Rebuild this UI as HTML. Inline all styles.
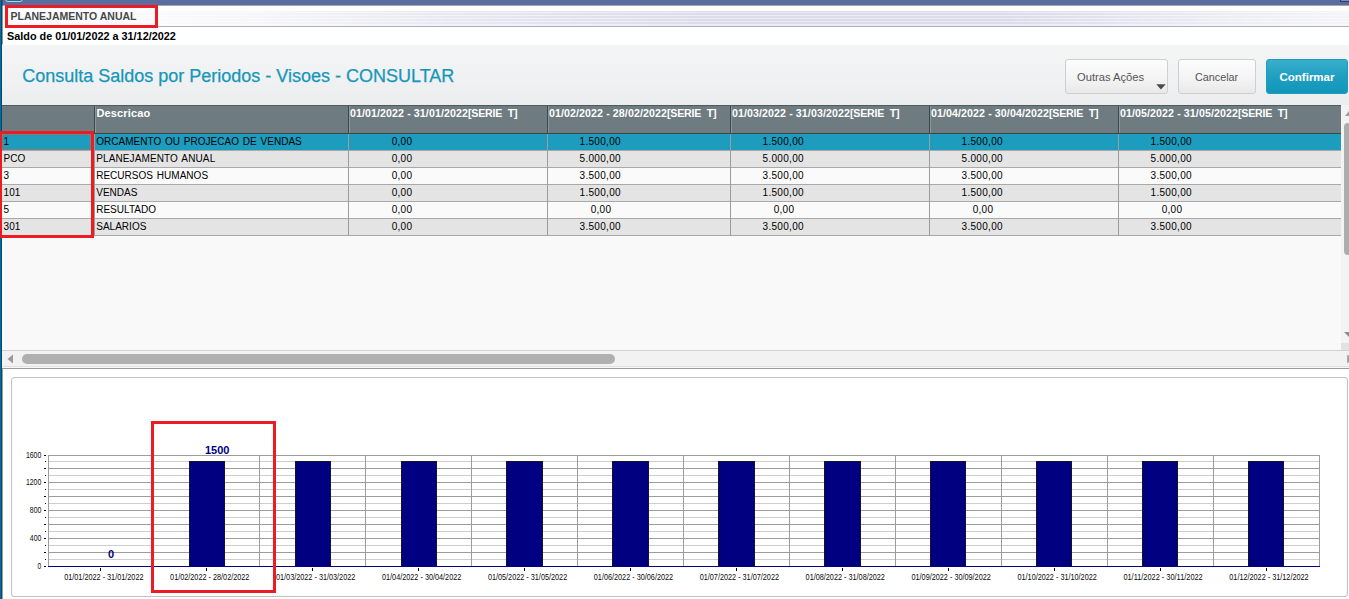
<!DOCTYPE html>
<html lang="pt-BR">
<head>
<meta charset="utf-8">
<title>Consulta Saldos por Periodos</title>
<style>
html,body{margin:0;padding:0;}
body{width:1349px;height:599px;position:relative;overflow:hidden;background:#fff;
  font-family:"Liberation Sans",sans-serif;color:#000;}
.a{position:absolute;}
.t{position:absolute;white-space:pre;line-height:14px;}
/* window chrome */
#lb{left:0;top:0;width:2px;height:599px;background:linear-gradient(90deg,#0a6b8c 0,#0a6b8c 1px,#00487d 1px,#00487d 2px);}
#lbt{left:2px;top:0;width:1px;height:44px;background:rgba(60,60,60,.55);}
#lbt2{left:2px;top:44px;width:1px;height:324px;background:rgba(0,72,125,.25);}
#lbt3{left:2px;top:368px;width:1px;height:231px;background:rgba(80,80,80,.55);}
#topbar{left:2px;top:0;width:1347px;height:5px;background:#5b6c9f;}
#pill{left:5px;top:-7px;width:16px;height:7px;border:1px solid #c9cbdc;border-radius:3px;background:#0b7796;}
#trc{left:1340px;top:0;width:9px;height:1px;background:#7f89b6;border-bottom:1px solid #2e3e79;border-left:1px solid #2e3e79;}
#band{left:6px;top:11px;width:1343px;height:15px;background:linear-gradient(180deg,#dbdce8 0,#dbdce8 1px,#ebecf7 1px,#ebecf7 2px,#dbdce8 2px,#dbdce8 4px,#ebecf7 4px,#ebecf7 5px,#dbdce8 5px,#dbdce8 7px,#ebecf7 7px,#ebecf7 8px,#dbdce8 8px,#dbdce8 10px,#ebecf7 10px,#ebecf7 11px,#dbdce8 11px,#dbdce8 13px,#ebecf7 13px,#ebecf7 15px);}
#bandr{left:6px;top:11px;width:1343px;height:15px;background:linear-gradient(90deg,rgba(255,255,255,.85) 0,rgba(255,255,255,.85) 150px,rgba(255,255,255,.75) 250px,rgba(255,255,255,.35) 450px,rgba(255,255,255,0) 700px,rgba(255,255,255,0) 1000px,rgba(255,255,255,.45) 1200px,rgba(255,255,255,.7) 1343px);}
#bandl{left:6px;top:26px;width:1343px;height:1px;background:#aeaeb6;}
#tbl{left:2px;top:5px;width:1347px;height:1px;background:#a6a6a8;}
.red{position:absolute;border:3px solid #ed1c24;box-sizing:border-box;}
#hd1{left:10.5px;top:9px;font-weight:bold;font-size:10.5px;color:#474747;}
#hd2{left:7px;top:28.5px;font-weight:bold;font-size:10.85px;color:#000;}
/* title panel */
#tp{left:2px;top:45px;width:1347px;height:60px;background:linear-gradient(180deg,#f4f5f5 0,#f0f1f2 55%,#ecedee 100%);}
#title{left:22.2px;top:65px;font-size:18px;line-height:22px;color:#1697ba;-webkit-text-stroke:0.25px #1697ba;}
.btn{position:absolute;top:59px;height:35px;box-sizing:border-box;border:1px solid #cfcfcf;border-radius:3px;
  background:linear-gradient(180deg,#fdfdfd 0,#f4f4f4 55%,#e9e9e9 100%);color:#555;font-size:11.2px;}
.btn span{position:absolute;white-space:pre;line-height:14px;}
#b3{border-color:#1f9bbd;background:linear-gradient(180deg,#3aaecd 0,#1f9fc1 50%,#1196b9 100%);color:#fff;font-weight:bold;}
/* table */
#tarea{left:2px;top:105px;width:1339px;height:245px;background:#f9f9f9;}
#thead{left:2px;top:105px;width:1339px;height:29px;background:#6e7c81;border-top:1px solid #4f5a5e;border-bottom:1px solid #3f4649;box-sizing:border-box;}
.hs{position:absolute;top:106px;height:27px;width:1px;background:#3f474a;}
.hs2{position:absolute;top:106px;height:27px;width:1px;background:#8b979b;}
.th{position:absolute;top:106px;white-space:pre;line-height:14px;font-weight:bold;font-size:11px;color:#fff;}
.row{position:absolute;left:2px;width:1339px;height:16px;border-bottom:1px solid #a9a9a9;}
.r0{background:#1d9cbe;}
.ro{background:#e4e4e4;}
.re{background:#fafafa;}
.vs{position:absolute;top:134px;height:102px;width:1px;background:#9c9c9c;}
.c{position:absolute;white-space:pre;line-height:14px;font-size:10px;word-spacing:1px;letter-spacing:0.02px;color:#000;}
.n{letter-spacing:0.1px;}
.v{position:absolute;white-space:pre;line-height:14px;font-size:10px;letter-spacing:0.3px;color:#000;width:107px;text-align:center;margin-left:-0.3px;}
/* scrollbars */
#vsb{left:1341px;top:105px;width:8px;height:238px;background:#f3f3f3;}
#vth{left:1344px;top:123px;width:8px;height:132px;border-radius:4px;background:#adadad;}
#corner{left:1341px;top:343px;width:8px;height:7px;background:#e2e2e2;}
#hsbl{left:2px;top:350px;width:1347px;height:1px;background:#d2d2d2;}
#hsb{left:2px;top:351px;width:1347px;height:15px;background:#f2f2f2;}
#hsbc{left:2px;top:366px;width:1347px;height:1px;background:#dfe2e2;}
#hth{left:22px;top:354px;width:593px;height:10px;border-radius:5px;background:#b0b0b0;}
#hsbb{left:2px;top:368px;width:1347px;height:1px;background:#9a9a9a;}
#hsbb2{left:2px;top:367px;width:1347px;height:1px;background:#f8f8f8;}
/* chart */
#cp{left:11px;top:377px;width:1337px;height:220px;box-sizing:border-box;border:1px solid #c2c2c2;border-radius:3px;background:#fff;box-shadow:inset 0 0 1px #d8d8d8;}
</style>
</head>
<body>
<div class="a" id="topbar"></div>
<div class="a" id="pill"></div>
<div class="a" id="trc"></div>
<div class="a" id="band"></div>
<div class="a" id="bandr"></div>
<div class="a" id="bandl"></div>
<div class="a" id="tbl"></div>
<div class="a" id="lb"></div>
<div class="a" id="lbt"></div>
<div class="a" id="lbt2"></div>
<div class="a" id="lbt3"></div>

<div class="t" id="hd1">PLANEJAMENTO ANUAL</div>
<div class="t" id="hd2">Saldo de 01/01/2022 a 31/12/2022</div>

<div class="a" id="tp"></div>
<div class="t" id="title">Consulta Saldos por Periodos - Visoes - CONSULTAR</div>

<div class="btn" id="b1" style="left:1065px;width:103px;"><span style="left:11px;top:10px;">Outras Ações</span>
<svg class="a" style="left:89.5px;top:24px" width="10" height="6" viewBox="0 0 10 6"><path d="M0.3 0.3 L9.7 0.3 L5 5.6 Z" fill="#4a4a4a"/></svg></div>
<div class="btn" id="b2" style="left:1178px;width:78px;"><span style="left:16px;top:10px;font-size:10.8px;">Cancelar</span></div>
<div class="btn" id="b3" style="left:1266px;width:82px;"><span style="left:12.5px;top:10px;font-size:11.5px;">Confirmar</span></div>

<div class="a" id="tarea"></div>
<div class="a" id="thead"></div>
<div class="hs" style="left:94px"></div><div class="hs2" style="left:95px"></div>
<div class="hs" style="left:348px"></div><div class="hs2" style="left:349px"></div>
<div class="hs" style="left:547px"></div><div class="hs2" style="left:548px"></div>
<div class="hs" style="left:730px"></div><div class="hs2" style="left:731px"></div>
<div class="hs" style="left:929px"></div><div class="hs2" style="left:930px"></div>
<div class="hs" style="left:1118px"></div><div class="hs2" style="left:1119px"></div>
<div class="th" style="left:96.5px;letter-spacing:0.13px">Descricao</div>
<div class="th" style="left:350.0px;font-size:10.62px"><span style="letter-spacing:0.1px">01/01/2022 - 31/01/2022</span><span style="letter-spacing:-0.19px">[SERIE  T]</span></div>
<div class="th" style="left:549.0px;font-size:10.62px"><span style="letter-spacing:0.1px">01/02/2022 - 28/02/2022</span><span style="letter-spacing:-0.19px">[SERIE  T]</span></div>
<div class="th" style="left:732.0px;font-size:10.62px"><span style="letter-spacing:0.1px">01/03/2022 - 31/03/2022</span><span style="letter-spacing:-0.19px">[SERIE  T]</span></div>
<div class="th" style="left:931.0px;font-size:10.62px"><span style="letter-spacing:0.1px">01/04/2022 - 30/04/2022</span><span style="letter-spacing:-0.19px">[SERIE  T]</span></div>
<div class="th" style="left:1120.0px;font-size:10.62px"><span style="letter-spacing:0.1px">01/05/2022 - 31/05/2022</span><span style="letter-spacing:-0.19px">[SERIE  T]</span></div>
<div class="row r0" style="top:134px"></div>
<div class="row ro" style="top:151px"></div>
<div class="row re" style="top:168px"></div>
<div class="row ro" style="top:185px"></div>
<div class="row re" style="top:202px"></div>
<div class="row ro" style="top:219px"></div>
<div class="vs" style="left:94px"></div>
<div class="vs" style="left:348px"></div>
<div class="vs" style="left:547px"></div>
<div class="vs" style="left:730px"></div>
<div class="vs" style="left:929px"></div>
<div class="vs" style="left:1118px"></div>
<div class="c n" style="left:3.5px;top:135px">1</div>
<div class="c" style="left:96.2px;top:135px">ORCAMENTO OU PROJECAO DE VENDAS</div>
<div class="v" style="left:348.8px;top:135px">0,00</div>
<div class="v" style="left:547px;top:135px">1.500,00</div>
<div class="v" style="left:730px;top:135px">1.500,00</div>
<div class="v" style="left:929px;top:135px">1.500,00</div>
<div class="v" style="left:1118px;top:135px">1.500,00</div>
<div class="c" style="left:3.5px;top:152px">PCO</div>
<div class="c" style="left:96.2px;top:152px;letter-spacing:0.12px">PLANEJAMENTO ANUAL</div>
<div class="v" style="left:348.8px;top:152px">0,00</div>
<div class="v" style="left:547px;top:152px">5.000,00</div>
<div class="v" style="left:730px;top:152px">5.000,00</div>
<div class="v" style="left:929px;top:152px">5.000,00</div>
<div class="v" style="left:1118px;top:152px">5.000,00</div>
<div class="c n" style="left:3.5px;top:169px">3</div>
<div class="c" style="left:96.2px;top:169px">RECURSOS HUMANOS</div>
<div class="v" style="left:348.8px;top:169px">0,00</div>
<div class="v" style="left:547px;top:169px">3.500,00</div>
<div class="v" style="left:730px;top:169px">3.500,00</div>
<div class="v" style="left:929px;top:169px">3.500,00</div>
<div class="v" style="left:1118px;top:169px">3.500,00</div>
<div class="c n" style="left:3.5px;top:186px">101</div>
<div class="c" style="left:96.2px;top:186px">VENDAS</div>
<div class="v" style="left:348.8px;top:186px">0,00</div>
<div class="v" style="left:547px;top:186px">1.500,00</div>
<div class="v" style="left:730px;top:186px">1.500,00</div>
<div class="v" style="left:929px;top:186px">1.500,00</div>
<div class="v" style="left:1118px;top:186px">1.500,00</div>
<div class="c n" style="left:3.5px;top:203px">5</div>
<div class="c" style="left:96.2px;top:203px">RESULTADO</div>
<div class="v" style="left:348.8px;top:203px">0,00</div>
<div class="v" style="left:547.8px;top:203px">0,00</div>
<div class="v" style="left:730.8px;top:203px">0,00</div>
<div class="v" style="left:929.8px;top:203px">0,00</div>
<div class="v" style="left:1118.8px;top:203px">0,00</div>
<div class="c n" style="left:3.5px;top:220px">301</div>
<div class="c" style="left:96.2px;top:220px">SALARIOS</div>
<div class="v" style="left:348.8px;top:220px">0,00</div>
<div class="v" style="left:547px;top:220px">3.500,00</div>
<div class="v" style="left:730px;top:220px">3.500,00</div>
<div class="v" style="left:929px;top:220px">3.500,00</div>
<div class="v" style="left:1118px;top:220px">3.500,00</div>
<div class="a" style="left:2px;top:134px;width:89px;height:16px;border:1px dotted #e2622e;box-sizing:border-box"></div>
<div class="a" id="vsb"></div><div class="a" id="vth"></div><div class="a" id="corner"></div>
<svg class="a" style="left:1345px;top:109px" width="4" height="8" viewBox="0 0 4 8"><path d="M0 7 L4 2 L4 7 Z" fill="#9c9c9c"/></svg>
<svg class="a" style="left:1344px;top:331px" width="5" height="7" viewBox="0 0 5 7"><path d="M0 1 L5 1 L5 6 Z" fill="#8c8c8c"/></svg>
<div class="a" id="hsbl"></div><div class="a" id="hsb"></div><div class="a" id="hsbc"></div><div class="a" id="hth"></div><div class="a" id="hsbb"></div><div class="a" id="hsbb2"></div>
<svg class="a" style="left:7px;top:354px" width="7" height="10" viewBox="0 0 7 10"><path d="M6 0.5 L0.5 5 L6 9.5 Z" fill="#9a9a9a"/></svg>
<svg class="a" style="left:1347px;top:354px" width="2" height="10" viewBox="0 0 2 10"><path d="M0.2 0.5 L2 2 L2 8 L0.2 9.5 Z" fill="#9a9a9a"/></svg>
<div class="a" id="cp"></div>
<svg class="a" style="left:0;top:370px" width="1349" height="229" viewBox="0 370 1349 229" font-family="Liberation Sans, sans-serif" shape-rendering="crispEdges">
<rect x="48" y="455" width="1272" height="1" fill="#9c9c9c"/>
<rect x="48" y="461" width="1272" height="1" fill="#cdcdcd"/>
<rect x="48" y="468" width="1272" height="1" fill="#9c9c9c"/>
<rect x="48" y="475" width="1272" height="1" fill="#cdcdcd"/>
<rect x="48" y="482" width="1272" height="1" fill="#9c9c9c"/>
<rect x="48" y="489" width="1272" height="1" fill="#cdcdcd"/>
<rect x="48" y="496" width="1272" height="1" fill="#9c9c9c"/>
<rect x="48" y="503" width="1272" height="1" fill="#cdcdcd"/>
<rect x="48" y="510" width="1272" height="1" fill="#9c9c9c"/>
<rect x="48" y="517" width="1272" height="1" fill="#cdcdcd"/>
<rect x="48" y="524" width="1272" height="1" fill="#9c9c9c"/>
<rect x="48" y="531" width="1272" height="1" fill="#cdcdcd"/>
<rect x="48" y="538" width="1272" height="1" fill="#9c9c9c"/>
<rect x="48" y="545" width="1272" height="1" fill="#cdcdcd"/>
<rect x="48" y="552" width="1272" height="1" fill="#9c9c9c"/>
<rect x="48" y="559" width="1272" height="1" fill="#cdcdcd"/>
<rect x="48" y="455" width="1" height="111" fill="#9c9c9c"/>
<rect x="153" y="455" width="1" height="111" fill="#9c9c9c"/>
<rect x="259" y="455" width="1" height="111" fill="#9c9c9c"/>
<rect x="365" y="455" width="1" height="111" fill="#9c9c9c"/>
<rect x="471" y="455" width="1" height="111" fill="#9c9c9c"/>
<rect x="577" y="455" width="1" height="111" fill="#9c9c9c"/>
<rect x="683" y="455" width="1" height="111" fill="#9c9c9c"/>
<rect x="789" y="455" width="1" height="111" fill="#9c9c9c"/>
<rect x="895" y="455" width="1" height="111" fill="#9c9c9c"/>
<rect x="1001" y="455" width="1" height="111" fill="#9c9c9c"/>
<rect x="1107" y="455" width="1" height="111" fill="#9c9c9c"/>
<rect x="1213" y="455" width="1" height="111" fill="#9c9c9c"/>
<rect x="1319" y="455" width="1" height="111" fill="#9c9c9c"/>
<rect x="44" y="455" width="2" height="1" fill="#000"/>
<rect x="45" y="461" width="1" height="1" fill="#000"/>
<rect x="44" y="468" width="2" height="1" fill="#000"/>
<rect x="45" y="475" width="1" height="1" fill="#000"/>
<rect x="44" y="482" width="2" height="1" fill="#000"/>
<rect x="45" y="489" width="1" height="1" fill="#000"/>
<rect x="44" y="496" width="2" height="1" fill="#000"/>
<rect x="45" y="503" width="1" height="1" fill="#000"/>
<rect x="44" y="510" width="2" height="1" fill="#000"/>
<rect x="45" y="517" width="1" height="1" fill="#000"/>
<rect x="44" y="524" width="2" height="1" fill="#000"/>
<rect x="45" y="531" width="1" height="1" fill="#000"/>
<rect x="44" y="538" width="2" height="1" fill="#000"/>
<rect x="45" y="545" width="1" height="1" fill="#000"/>
<rect x="44" y="552" width="2" height="1" fill="#000"/>
<rect x="45" y="559" width="1" height="1" fill="#000"/>
<rect x="44" y="566" width="2" height="1" fill="#000"/>
<text x="25.9" y="458.4" font-size="8.5" textLength="15.4" lengthAdjust="spacingAndGlyphs" fill="#0a0a0a">1600</text>
<text x="25.9" y="485.4" font-size="8.5" textLength="15.4" lengthAdjust="spacingAndGlyphs" fill="#0a0a0a">1200</text>
<text x="29.8" y="513.4" font-size="8.5" textLength="11.5" lengthAdjust="spacingAndGlyphs" fill="#0a0a0a">800</text>
<text x="29.8" y="541.4" font-size="8.5" textLength="11.5" lengthAdjust="spacingAndGlyphs" fill="#0a0a0a">400</text>
<text x="37.6" y="569.4" font-size="8.5" textLength="3.7" lengthAdjust="spacingAndGlyphs" fill="#0a0a0a">0</text>
<rect x="189" y="461" width="36" height="105" fill="#141428"/>
<rect x="190" y="462" width="34" height="104" fill="#000080"/>
<rect x="295" y="461" width="36" height="105" fill="#141428"/>
<rect x="296" y="462" width="34" height="104" fill="#000080"/>
<rect x="401" y="461" width="36" height="105" fill="#141428"/>
<rect x="402" y="462" width="34" height="104" fill="#000080"/>
<rect x="506" y="461" width="37" height="105" fill="#141428"/>
<rect x="507" y="462" width="35" height="104" fill="#000080"/>
<rect x="612" y="461" width="37" height="105" fill="#141428"/>
<rect x="613" y="462" width="35" height="104" fill="#000080"/>
<rect x="718" y="461" width="37" height="105" fill="#141428"/>
<rect x="719" y="462" width="35" height="104" fill="#000080"/>
<rect x="824" y="461" width="37" height="105" fill="#141428"/>
<rect x="825" y="462" width="35" height="104" fill="#000080"/>
<rect x="930" y="461" width="36" height="105" fill="#141428"/>
<rect x="931" y="462" width="34" height="104" fill="#000080"/>
<rect x="1036" y="461" width="36" height="105" fill="#141428"/>
<rect x="1037" y="462" width="34" height="104" fill="#000080"/>
<rect x="1142" y="461" width="36" height="105" fill="#141428"/>
<rect x="1143" y="462" width="34" height="104" fill="#000080"/>
<rect x="1248" y="461" width="36" height="105" fill="#141428"/>
<rect x="1249" y="462" width="34" height="104" fill="#000080"/>
<rect x="48" y="566" width="1272" height="1" fill="#000080"/>
<rect x="100" y="568" width="1" height="3" fill="#000"/>
<text x="64.2" y="580.2" font-size="8.5" textLength="79.3" lengthAdjust="spacingAndGlyphs" fill="#0a0a0a">01/01/2022 - 31/01/2022</text>
<rect x="206" y="568" width="1" height="3" fill="#000"/>
<text x="170.1" y="580.2" font-size="8.5" textLength="79.3" lengthAdjust="spacingAndGlyphs" fill="#0a0a0a">01/02/2022 - 28/02/2022</text>
<rect x="312" y="568" width="1" height="3" fill="#000"/>
<text x="276.0" y="580.2" font-size="8.5" textLength="79.3" lengthAdjust="spacingAndGlyphs" fill="#0a0a0a">01/03/2022 - 31/03/2022</text>
<rect x="418" y="568" width="1" height="3" fill="#000"/>
<text x="382.0" y="580.2" font-size="8.5" textLength="79.3" lengthAdjust="spacingAndGlyphs" fill="#0a0a0a">01/04/2022 - 30/04/2022</text>
<rect x="524" y="568" width="1" height="3" fill="#000"/>
<text x="487.9" y="580.2" font-size="8.5" textLength="79.3" lengthAdjust="spacingAndGlyphs" fill="#0a0a0a">01/05/2022 - 31/05/2022</text>
<rect x="630" y="568" width="1" height="3" fill="#000"/>
<text x="593.8" y="580.2" font-size="8.5" textLength="79.3" lengthAdjust="spacingAndGlyphs" fill="#0a0a0a">01/06/2022 - 30/06/2022</text>
<rect x="736" y="568" width="1" height="3" fill="#000"/>
<text x="699.7" y="580.2" font-size="8.5" textLength="79.3" lengthAdjust="spacingAndGlyphs" fill="#0a0a0a">01/07/2022 - 31/07/2022</text>
<rect x="842" y="568" width="1" height="3" fill="#000"/>
<text x="805.6" y="580.2" font-size="8.5" textLength="79.3" lengthAdjust="spacingAndGlyphs" fill="#0a0a0a">01/08/2022 - 31/08/2022</text>
<rect x="948" y="568" width="1" height="3" fill="#000"/>
<text x="911.5" y="580.2" font-size="8.5" textLength="79.3" lengthAdjust="spacingAndGlyphs" fill="#0a0a0a">01/09/2022 - 30/09/2022</text>
<rect x="1054" y="568" width="1" height="3" fill="#000"/>
<text x="1017.5" y="580.2" font-size="8.5" textLength="79.3" lengthAdjust="spacingAndGlyphs" fill="#0a0a0a">01/10/2022 - 31/10/2022</text>
<rect x="1160" y="568" width="1" height="3" fill="#000"/>
<text x="1123.4" y="580.2" font-size="8.5" textLength="79.3" lengthAdjust="spacingAndGlyphs" fill="#0a0a0a">01/11/2022 - 30/11/2022</text>
<rect x="1266" y="568" width="1" height="3" fill="#000"/>
<text x="1229.3" y="580.2" font-size="8.5" textLength="79.3" lengthAdjust="spacingAndGlyphs" fill="#0a0a0a">01/12/2022 - 31/12/2022</text>
<text x="111.1" y="558.2" font-size="11" font-weight="bold" text-anchor="middle" fill="#000080">0</text>
<text x="217.2" y="454" font-size="11" font-weight="bold" text-anchor="middle" fill="#000080">1500</text>
</svg>
<div class="red" style="left:5px;top:5px;width:153px;height:23px"></div>
<div class="red" style="left:-1px;top:131px;width:95px;height:107px"></div>
<div class="red" style="left:151px;top:421px;width:125px;height:172px"></div>
</body>
</html>
